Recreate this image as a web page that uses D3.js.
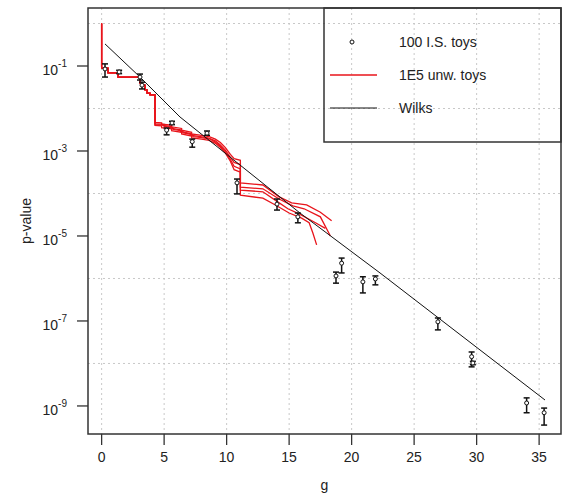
<!DOCTYPE html>
<html><head><meta charset="utf-8">
<script src="https://cdn.jsdelivr.net/npm/d3@7"></script>
<style>body{margin:0;background:#fff}svg{font-family:"Liberation Sans",Arial,sans-serif}</style>
</head><body><svg id="c" width="563" height="497"></svg>
<script>
// ---- data (g, log10 p) ----
const xTicks = [0, 5, 10, 15, 20, 25, 30, 35];
const yTickExp = [-1, -3, -5, -7, -9];
const yGridExp = [0, -2, -4, -6, -8];
const legendLabels = ["100 I.S. toys", "1E5 unw. toys", "Wilks"];

// importance-sampled toys: g, log10 p, log10 upper, log10 lower
const isG    = [0.27, 1.4, 3.07, 3.23, 5.2, 5.63, 7.25, 8.43, 10.83, 14.03, 15.7, 18.75, 19.2, 20.9, 21.9, 26.9, 29.6, 29.7, 34.0, 35.4];
const isLogP = [-1.07, -1.14, -1.26, -1.45, -2.51, -2.34, -2.78, -2.58, -3.75, -4.25, -4.55, -5.94, -5.64, -6.08, -6.01, -7.02, -7.84, -7.99, -8.93, -9.16];
const isHi   = [-0.95, -1.10, -1.19, -1.38, -2.46, -2.30, -2.72, -2.53, -3.66, -4.13, -4.46, -5.85, -5.52, -5.96, -5.94, -6.93, -7.73, -7.95, -8.81, -9.05];
const isLo   = [-1.26, -1.18, -1.33, -1.54, -2.62, -2.38, -2.91, -2.63, -4.01, -4.39, -4.69, -6.11, -5.87, -6.34, -6.15, -7.21, -8.08, -8.03, -9.16, -9.45];

// Wilks asymptotic curve
const wilksG    = [0.27, 3.07, 6.27, 11.07, 15.87, 22.27, 35.47];
const wilksLogP = [-0.48, -1.26, -2.20, -3.33, -4.46, -5.87, -8.86];

// unweighted toys: common head then four runs
const redHead = [[0, 0], [0, -1.05], [0.51, -1.05], [0.51, -1.16], [1.31, -1.16], [1.31, -1.26], [2.91, -1.26], [3.07, -1.28], [3.07, -1.40], [3.23, -1.40], [3.23, -1.45], [3.47, -1.45], [3.47, -1.56], [3.63, -1.56], [3.63, -1.64], [3.87, -1.64], [3.87, -1.68], [4.27, -1.68]];
const redRunA = [[4.27, -2.33], [4.8, -2.34], [4.8, -2.37], [5.6, -2.39], [5.6, -2.43], [6.4, -2.47], [6.4, -2.51], [7.2, -2.56], [7.2, -2.60], [8.0, -2.63], [8.6, -2.66], [9.1, -2.72], [9.5, -2.80], [9.9, -2.92], [10.3, -3.08], [10.6, -3.18], [11.1, -3.22], [11.1, -3.75], [12.9, -3.80], [14.2, -4.08], [15.2, -4.22], [16.4, -4.27], [17.5, -4.44], [18.4, -4.64]];
const redRunB = [[4.27, -2.36], [4.9, -2.37], [4.9, -2.40], [5.5, -2.42], [5.5, -2.46], [6.3, -2.50], [6.3, -2.54], [7.1, -2.59], [7.1, -2.63], [7.9, -2.66], [8.5, -2.69], [9.1, -2.76], [9.5, -2.86], [9.9, -2.98], [10.3, -3.15], [10.6, -3.27], [11.1, -3.32], [11.1, -3.85], [12.9, -3.89], [14.2, -4.13], [15.3, -4.29], [16.2, -4.36], [17.5, -4.55], [18.3, -5.00]];
const redRunC = [[4.27, -2.38], [5.0, -2.39], [5.0, -2.42], [5.7, -2.45], [5.7, -2.49], [6.5, -2.53], [6.5, -2.57], [7.3, -2.62], [7.3, -2.66], [8.1, -2.69], [8.7, -2.72], [9.1, -2.79], [9.5, -2.89], [9.9, -3.02], [10.3, -3.20], [10.6, -3.36], [11.1, -3.42], [11.1, -3.92], [12.9, -3.96], [14.0, -4.18], [14.9, -4.36], [15.8, -4.48], [17.0, -4.67], [17.9, -4.82]];
const redRunD = [[4.27, -2.40], [4.8, -2.41], [4.8, -2.45], [5.6, -2.48], [5.6, -2.52], [6.4, -2.56], [6.4, -2.60], [7.2, -2.65], [7.2, -2.69], [8.0, -2.72], [8.6, -2.75], [9.1, -2.82], [9.5, -2.92], [9.9, -3.05], [10.3, -3.24], [10.6, -3.44], [11.1, -3.50], [11.1, -4.04], [12.9, -4.11], [13.9, -4.27], [15.0, -4.46], [16.0, -4.58], [16.6, -4.69], [16.9, -4.93], [17.2, -5.21]];
const redRuns = [redRunA, redRunB, redRunC, redRunD];

// ---- chart ----
const svg = d3.select("#c");
const P = {l: 88, r: 561, t: 8, b: 434};
const x = d3.scaleLinear().domain([-1.09, 36.75]).range([P.l, P.r]);
const y = d3.scaleLog().domain([Math.pow(10, -9.66), Math.pow(10, 0.365)]).range([P.b, P.t]);
const yl = L => y(Math.pow(10, L));
const txt = "#222";

// grid
const grid = svg.append("g").attr("stroke", "#c8c8c8").attr("stroke-dasharray", "2,3").attr("stroke-width", 1);
grid.selectAll("line.v").data(xTicks).join("line").attr("class", "v")
  .attr("x1", d => x(d)).attr("x2", d => x(d)).attr("y1", P.t).attr("y2", P.b);
grid.selectAll("line.h").data(yGridExp).join("line").attr("class", "h")
  .attr("x1", P.l).attr("x2", P.r).attr("y1", d => yl(d)).attr("y2", d => yl(d));

// red toy curves
const line = d3.line().x(d => x(d[0])).y(d => yl(d[1]));
redRuns.forEach(run => {
  svg.append("path").datum(redHead.concat(run)).attr("d", line)
    .attr("fill", "none").attr("stroke", "#e8141b").attr("stroke-width", 1.3);
});

// Wilks
svg.append("path").datum(wilksG.map((g, i) => [g, wilksLogP[i]])).attr("d", line)
  .attr("fill", "none").attr("stroke", "#111").attr("stroke-width", 1);

// error-bar points
const pts = svg.append("g");
isG.forEach((g, i) => {
  const cx = x(g);
  pts.append("line").attr("x1", cx).attr("x2", cx).attr("y1", yl(isHi[i])).attr("y2", yl(isLo[i]))
    .attr("stroke", "#111").attr("stroke-width", 1.5);
  [isHi[i], isLo[i]].forEach(v => pts.append("line").attr("x1", cx - 3).attr("x2", cx + 3)
    .attr("y1", yl(v)).attr("y2", yl(v)).attr("stroke", "#111").attr("stroke-width", 1.5));
  pts.append("circle").attr("cx", cx).attr("cy", yl(isLogP[i])).attr("r", 2)
    .attr("fill", "#fff").attr("stroke", "#111").attr("stroke-width", 1);
});

// box
svg.append("rect").attr("x", P.l).attr("y", P.t).attr("width", P.r - P.l).attr("height", P.b - P.t)
  .attr("fill", "none").attr("stroke", "#333").attr("stroke-width", 1.5);

// x axis ticks
const xa = svg.append("g");
xa.selectAll("line").data(xTicks).join("line")
  .attr("x1", d => x(d)).attr("x2", d => x(d)).attr("y1", P.b).attr("y2", P.b + 11)
  .attr("stroke", "#333").attr("stroke-width", 1.3);
xa.selectAll("text").data(xTicks).join("text")
  .attr("x", d => x(d)).attr("y", 462).attr("text-anchor", "middle")
  .attr("font-size", 14).attr("fill", txt).text(d => d);

// y axis ticks
const ya = svg.append("g");
ya.selectAll("line").data(yTickExp).join("line")
  .attr("x1", P.l - 11).attr("x2", P.l).attr("y1", d => yl(d)).attr("y2", d => yl(d))
  .attr("stroke", "#333").attr("stroke-width", 1.3);
const yt = ya.selectAll("text").data(yTickExp).join("text")
  .attr("x", 67).attr("y", d => yl(d) + 9).attr("text-anchor", "end")
  .attr("font-size", 14).attr("fill", txt);
yt.append("tspan").text("10");
yt.append("tspan").attr("dy", -8).attr("font-size", 10).text(d => "-" + Math.abs(d));

// axis labels
svg.append("text").attr("x", (P.l + P.r) / 2).attr("y", 490).attr("text-anchor", "middle")
  .attr("font-size", 14).attr("fill", txt).text("g");
svg.append("text").attr("transform", `translate(31,${(P.t + P.b) / 2}) rotate(-90)`)
  .attr("text-anchor", "middle").attr("font-size", 14).attr("fill", txt).text("p-value");

// legend
const lg = svg.append("g");
lg.append("rect").attr("x", 324).attr("y", P.t).attr("width", P.r - 324).attr("height", 142 - P.t)
  .attr("fill", "none").attr("stroke", "#333").attr("stroke-width", 1.5);
const legY = [42, 75, 108];
lg.append("circle").attr("cx", 352).attr("cy", legY[0]).attr("r", 2).attr("fill", "#fff").attr("stroke", "#111");
lg.append("line").attr("x1", 330).attr("x2", 377).attr("y1", legY[1]).attr("y2", legY[1]).attr("stroke", "#e8141b").attr("stroke-width", 1.3);
lg.append("line").attr("x1", 330).attr("x2", 377).attr("y1", legY[2]).attr("y2", legY[2]).attr("stroke", "#111").attr("stroke-width", 1);
lg.selectAll("text").data(legendLabels).join("text")
  .attr("x", 399).attr("y", (d, i) => legY[i] + 5).attr("font-size", 14).attr("fill", txt).text(d => d);
</script></body></html>
